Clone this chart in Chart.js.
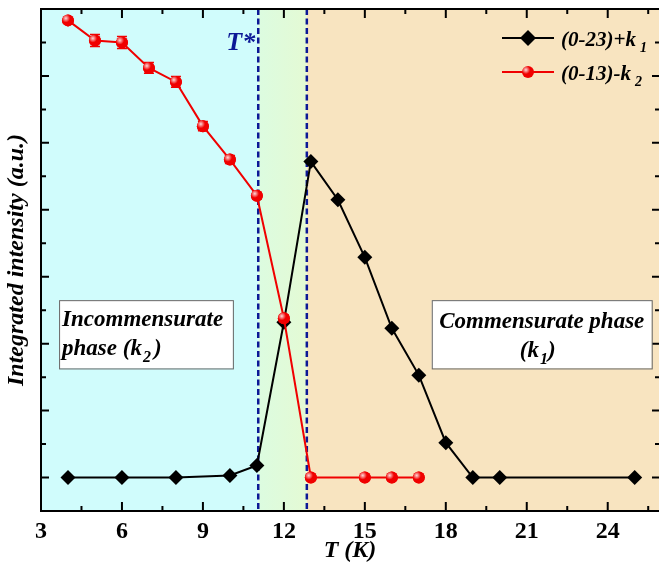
<!DOCTYPE html>
<html>
<head>
<meta charset="utf-8">
<script src="https://cdn.jsdelivr.net/npm/chart.js@4"></script>
<style>
  body { margin: 0; background: #fff; }
  #wrap { width: 659px; height: 573px; }
</style>
</head>
<body>
<div id="wrap"><canvas id="phaseChart"></canvas></div>
<script>
// data (intensity in arbitrary units, 1 unit = one major tick)
const tempK1 = [4, 6, 8, 10, 11, 12, 13, 14, 15, 16, 17, 18, 19, 20, 25];
const intensityK1 = [0, 0, 0, 0.03, 0.18, 2.32, 4.72, 4.15, 3.29, 2.23, 1.53, 0.52, 0, 0, 0];
const tempK2 = [4, 5, 6, 7, 8, 9, 10, 11, 12, 13, 15, 16, 17];
const intensityK2 = [6.83, 6.53, 6.50, 6.12, 5.91, 5.25, 4.75, 4.21, 2.38, 0, 0, 0, 0];
const errorK2 = [0.03, 0.09, 0.09, 0.08, 0.08, 0.07, 0.06, 0.05, 0.05, 0, 0, 0, 0];
const phaseEdges = [11.05, 12.85]; // T* and the commensurate transition

const serif = 'Liberation Serif, Times New Roman, serif';
const navy = '#0c1896';

// text with a subscript, returns end x
function subText(ctx, x, y, main, sub, size, gap) {
  ctx.font = 'italic bold ' + size + 'px ' + serif;
  ctx.fillText(main, x, y);
  let w = ctx.measureText(main).width;
  ctx.font = 'italic bold ' + Math.round(size * 0.68) + 'px ' + serif;
  ctx.fillText(sub, x + w + gap, y + size * 0.28);
  return x + w + gap + ctx.measureText(sub).width;
}

function ball(ctx, x, y, r) {
  ctx.beginPath();
  ctx.arc(x, y, r, 0, Math.PI * 2);
  ctx.fillStyle = '#f00000';
  ctx.fill();
  const g = ctx.createRadialGradient(x - r * 0.35, y - r * 0.35, 0, x - r * 0.35, y - r * 0.35, r * 0.7);
  g.addColorStop(0, 'rgba(255,255,255,0.85)');
  g.addColorStop(1, 'rgba(255,255,255,0)');
  ctx.fillStyle = g;
  ctx.beginPath();
  ctx.arc(x, y, r, 0, Math.PI * 2);
  ctx.fill();
}

const phasePlugin = {
  id: 'phases',
  beforeDatasetsDraw(chart) {
    const { ctx, chartArea: a, scales: { x } } = chart;
    const x1 = x.getPixelForValue(phaseEdges[0]);
    const x2 = x.getPixelForValue(phaseEdges[1]);
    ctx.save();
    ctx.fillStyle = '#d0fcfc';
    ctx.fillRect(a.left, a.top, x1 - a.left, a.bottom - a.top);
    const g = ctx.createLinearGradient(x1, 0, x2, 0);
    g.addColorStop(0, '#dcfce0');
    g.addColorStop(1, '#e4fad4');
    ctx.fillStyle = g;
    ctx.fillRect(x1, a.top, x2 - x1, a.bottom - a.top);
    ctx.fillStyle = '#f8e4c0';
    ctx.fillRect(x2, a.top, a.right - x2, a.bottom - a.top);
    // dashed boundaries
    ctx.strokeStyle = navy;
    ctx.lineWidth = 2.5;
    ctx.setLineDash([6, 3.5]);
    [x1, x2].forEach(px => {
      ctx.beginPath();
      ctx.moveTo(px, a.top);
      ctx.lineTo(px, a.bottom);
      ctx.stroke();
    });
    ctx.restore();
  },
  afterDatasetsDraw(chart) {
    const { ctx, scales: { y } } = chart;
    const meta = chart.getDatasetMeta(0);
    ctx.save();
    // error bars on k2 points
    ctx.strokeStyle = '#f00000';
    ctx.lineWidth = 1.5;
    meta.data.forEach((pt, i) => {
      const e = errorK2[i];
      if (!e) return;
      const yt = y.getPixelForValue(intensityK2[i] + e);
      const yb = y.getPixelForValue(intensityK2[i] - e);
      ctx.beginPath();
      ctx.moveTo(pt.x, yt); ctx.lineTo(pt.x, yb);
      ctx.moveTo(pt.x - 5, yt); ctx.lineTo(pt.x + 5, yt);
      ctx.moveTo(pt.x - 5, yb); ctx.lineTo(pt.x + 5, yb);
      ctx.stroke();
    });
    meta.data.forEach(pt => ball(ctx, pt.x, pt.y, 6));
    ctx.restore();
  },
  afterDraw(chart) {
    const { ctx, chartArea: a, scales: { x, y } } = chart;
    ctx.save();
    // frame
    ctx.strokeStyle = '#000';
    ctx.lineWidth = 2;
    ctx.beginPath();
    ctx.moveTo(a.right + 2, a.top); ctx.lineTo(a.left, a.top);
    ctx.lineTo(a.left, a.bottom); ctx.lineTo(a.right + 2, a.bottom);
    ctx.stroke();
    // inward ticks
    ctx.lineWidth = 2;
    for (let v = 3; v <= 25.9; v += 1.5) {
      const px = x.getPixelForValue(v);
      const len = (v % 3 === 0) ? 9 : 5;
      ctx.beginPath();
      ctx.moveTo(px, a.bottom); ctx.lineTo(px, a.bottom - len);
      ctx.moveTo(px, a.top); ctx.lineTo(px, a.top + len);
      ctx.stroke();
    }
    for (let v = -0.5; v <= 7; v += 0.5) {
      const py = y.getPixelForValue(v);
      const len = Number.isInteger(v) ? 8 : 5;
      ctx.beginPath();
      ctx.moveTo(a.left, py); ctx.lineTo(a.left + len, py);
      ctx.moveTo(a.right + 1, py); ctx.lineTo(a.right + 1 - len, py);
      ctx.stroke();
    }
    // T* label
    ctx.fillStyle = navy;
    ctx.font = 'italic bold 26px ' + serif;
    ctx.textAlign = 'right';
    ctx.textBaseline = 'middle';
    ctx.fillText('T*', x.getPixelForValue(phaseEdges[0]) - 3, 43);

    // phase boxes
    ctx.textBaseline = 'alphabetic';
    const bx1 = x.getPixelForValue(3.67), bx2 = x.getPixelForValue(10.11);
    const by1 = y.getPixelForValue(2.65), by2 = y.getPixelForValue(1.63);
    ctx.fillStyle = '#fff';
    ctx.fillRect(bx1, by1, bx2 - bx1, by2 - by1);
    ctx.strokeStyle = '#666';
    ctx.lineWidth = 1;
    ctx.strokeRect(bx1 + 0.5, by1 + 0.5, bx2 - bx1, by2 - by1);
    ctx.fillStyle = '#000';
    ctx.textAlign = 'left';
    ctx.font = 'italic bold 23px ' + serif;
    ctx.fillText('Incommensurate', bx1 + 3, by1 + 26);
    subText(ctx, bx1 + 3, by1 + 55, 'phase (k', '2', 23, 1);
    ctx.font = 'italic bold 23px ' + serif;
    ctx.fillText(')', bx1 + 3 + ctx.measureText('phase (k').width + 12, by1 + 55);

    const cx1 = x.getPixelForValue(17.48), cx2 = x.getPixelForValue(25.63);
    ctx.fillStyle = '#fff';
    ctx.fillRect(cx1, by1, cx2 - cx1, by2 - by1);
    ctx.strokeStyle = '#666';
    ctx.strokeRect(cx1 + 0.5, by1 + 0.5, cx2 - cx1, by2 - by1);
    ctx.fillStyle = '#000';
    ctx.textAlign = 'center';
    ctx.font = 'italic bold 23px ' + serif;
    const mid = (cx1 + cx2) / 2;
    ctx.fillText('Commensurate phase', mid, by1 + 28);
    ctx.textAlign = 'left';
    const end = subText(ctx, mid - 22, by1 + 57, '(k', '1', 23, 1);
    ctx.font = 'italic bold 23px ' + serif;
    ctx.fillText(')', end, by1 + 57);

    // legend
    ctx.lineWidth = 2;
    ctx.strokeStyle = '#000';
    ctx.beginPath(); ctx.moveTo(502, 38); ctx.lineTo(554, 38); ctx.stroke();
    ctx.fillStyle = '#000';
    ctx.beginPath();
    ctx.moveTo(528, 30); ctx.lineTo(536, 38); ctx.lineTo(528, 46); ctx.lineTo(520, 38);
    ctx.closePath(); ctx.fill();
    ctx.strokeStyle = '#f00000';
    ctx.beginPath(); ctx.moveTo(502, 72); ctx.lineTo(554, 72); ctx.stroke();
    ball(ctx, 528, 72, 6);
    ctx.fillStyle = '#000';
    subText(ctx, 561, 46, '(0-23)+k', '1', 21, 4);
    subText(ctx, 561, 80, '(0-13)-k', '2', 21, 4);
    ctx.restore();
  }
};

new Chart(document.getElementById('phaseChart'), {
  type: 'line',
  data: {
    datasets: [
      {
        label: '(0-13)-k2',
        data: tempK2.map((t, i) => ({ x: t, y: intensityK2[i] })),
        borderColor: '#f00000',
        borderWidth: 2,
        backgroundColor: '#f00000',
        pointRadius: 6,
        pointBorderWidth: 0,
        pointStyle: 'circle',
        order: 0
      },
      {
        label: '(0-23)+k1',
        data: tempK1.map((t, i) => ({ x: t, y: intensityK1[i] })),
        borderColor: '#000',
        borderWidth: 2,
        backgroundColor: '#000',
        pointRadius: 7.5,
        pointBorderWidth: 0,
        pointStyle: 'rectRot',
        order: 1
      }
    ]
  },
  options: {
    responsive: true,
    maintainAspectRatio: false,
    animation: false,
    layout: { autoPadding: false, padding: { top: 9, right: 0, left: 0, bottom: 0 } },
    plugins: { legend: { display: false }, tooltip: { enabled: false } },
    scales: {
      x: {
        type: 'linear',
        min: 3,
        max: 25.9,
        grid: { display: false, drawTicks: false },
        border: { display: false },
        ticks: {
          stepSize: 3,
          includeBounds: false,
          padding: 6,
          color: '#000',
          font: { family: serif, size: 24, weight: 'bold' }
        },
        title: {
          display: true,
          text: 'T (K)',
          color: '#000',
          padding: { top: 0, bottom: 8 },
          font: { family: serif, size: 24, weight: 'bold', style: 'italic' }
        },
        afterFit: s => { s.height = 62; s.paddingLeft = 0; s.paddingRight = 0; }
      },
      y: {
        min: -0.5,
        max: 7,
        grid: { display: false, drawTicks: false },
        border: { display: false },
        ticks: { display: false },
        title: {
          display: true,
          text: 'Integrated intensity (a.u.)',
          color: '#000',
          padding: { top: 2, bottom: 0 },
          font: { family: serif, size: 24, weight: 'bold', style: 'italic' }
        },
        afterFit: s => { s.width = 41; s.paddingTop = 0; s.paddingBottom = 0; }
      }
    }
  },
  plugins: [phasePlugin]
});
</script>
</body>
</html>
